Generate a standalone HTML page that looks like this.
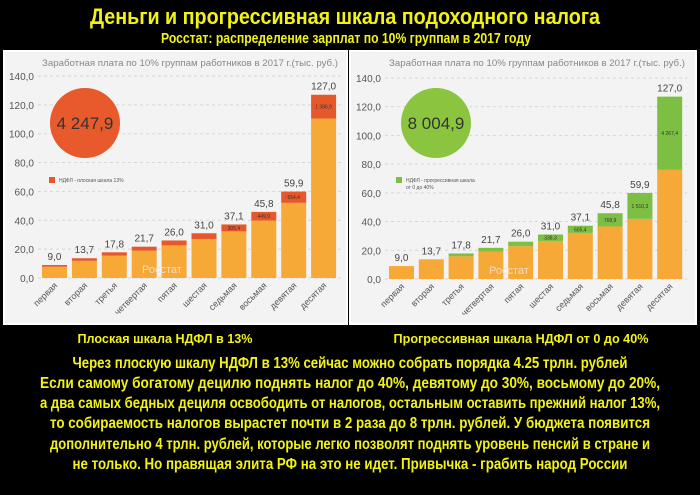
<!DOCTYPE html>
<html><head><meta charset="utf-8"><style>
html,body{margin:0;padding:0;background:#000;}
svg{display:block;}
text{font-family:"Liberation Sans",sans-serif;}
</style></head><body>
<svg id="s" width="700" height="495" viewBox="0 0 700 495" xmlns="http://www.w3.org/2000/svg">
<rect x="0" y="0" width="700" height="495" fill="#000"/>
<text x="345" y="24" text-anchor="middle" fill="#f2f21a" font-size="22" font-weight="bold" textLength="510" lengthAdjust="spacingAndGlyphs">Деньги и прогрессивная шкала подоходного налога</text>
<text x="346" y="43" text-anchor="middle" fill="#f2f21a" font-size="15" font-weight="bold" textLength="370" lengthAdjust="spacingAndGlyphs">Росстат: распределение зарплат по 10% группам в 2017 году</text>
<rect x="4" y="51" width="343" height="273" fill="#f3f3f3" stroke="#fff" stroke-width="2"/>
<rect x="350" y="51" width="346" height="273" fill="#f3f3f3" stroke="#fff" stroke-width="2"/>
<g id="L"></g><g id="R"></g>
<g fill="#f2f21a" font-weight="bold" text-anchor="middle">
<text x="165" y="343" font-size="13" textLength="175" lengthAdjust="spacingAndGlyphs">Плоская шкала НДФЛ в 13%</text>
<text x="521" y="343" font-size="13" textLength="255" lengthAdjust="spacingAndGlyphs">Прогрессивная шкала НДФЛ от 0 до 40%</text>
<text x="350" y="368" font-size="16" textLength="555" lengthAdjust="spacingAndGlyphs">Через плоскую шкалу НДФЛ в 13% сейчас можно собрать порядка 4.25 трлн. рублей</text>
<text x="350" y="388" font-size="16" textLength="620" lengthAdjust="spacingAndGlyphs">Если самому богатому децилю поднять налог до 40%, девятому до 30%, восьмому до 20%,</text>
<text x="350" y="408" font-size="16" textLength="620" lengthAdjust="spacingAndGlyphs">а два самых бедных дециля освободить от налогов, остальным оставить прежний налог 13%,</text>
<text x="350" y="428" font-size="16" textLength="600" lengthAdjust="spacingAndGlyphs">то собираемость налогов вырастет почти в 2 раза до 8 трлн. рублей. У бюджета появится</text>
<text x="350" y="449" font-size="16" textLength="600" lengthAdjust="spacingAndGlyphs">дополнительно 4 трлн. рублей, которые легко позволят поднять уровень пенсий в стране и</text>
<text x="350" y="469" font-size="16" textLength="555" lengthAdjust="spacingAndGlyphs">не только. Но правящая элита РФ на это не идет. Привычка - грабить народ России</text>
</g>
</svg>
<script>
const categories=["первая","вторая","третья","четвертая","пятая","шестая","седьмая","восьмая","девятая","десятая"];
const totals=[9.0,13.7,17.8,21.7,26.0,31.0,37.1,45.8,59.9,127.0];
const flatTax=[1.2,1.8,2.3,2.8,3.4,4.0,4.8,6.0,7.8,16.5];
const flatTaxLabels=["","","","","","","305,4","449,9","654,4","1 386,9"];
const progTax=[0,0,2.0,2.6,3.2,4.5,5.0,9.2,18.0,51.0];
const progTaxLabels=["","","","","","338,3","605,4","768,9","1 510,3","4 267,4"];
const yTicks=[0,20,40,60,80,100,120,140];
const NS="http://www.w3.org/2000/svg";
function mk(p,tag,a,txt){const e=document.createElementNS(NS,tag);for(const k in a)e.setAttribute(k,a[k]);if(txt!==undefined)e.textContent=txt;p.appendChild(e);return e;}
function chart(g,o){
 const y=v=>o.y0-v*o.k, x=i=>o.x0+i*o.pitch;
 mk(g,'text',{x:o.x0+148,y:66,'text-anchor':'middle','font-size':9.5,fill:'#888',textLength:296,lengthAdjust:'spacingAndGlyphs'},'Заработная плата по 10% группам работников в 2017 г.(тыс. руб.)');
 yTicks.forEach(t=>{
  const l=mk(g,'line',{x1:o.x0-4,x2:o.x0+o.pitch*9+30,y1:y(t),y2:y(t),stroke:'#d6d6d6','stroke-dasharray':'3,3'});
  
  
  const tx=mk(g,'text',{x:o.x0-8,y:y(t)+4,'text-anchor':'end','font-size':10,fill:'#555'},t.toFixed(1).replace('.',','));
  
  
 });
 totals.forEach((v,i)=>{
  const tax=o.tax[i], base=v-tax;
  const b=mk(g,'rect',{x:x(i),y:y(base),width:25,height:base*o.k,fill:'#f6a937'});
  
  
  if(tax>0){const t=mk(g,'rect',{x:x(i),y:y(v),width:25,height:tax*o.k,fill:o.col});
  
  
  if(o.labels[i]){const tl=mk(g,'text',{x:x(i)+12.5,y:y(v-tax/2)+2,'text-anchor':'middle','font-size':5,fill:'#333'},o.labels[i]);
  
  }}
  const vl=mk(g,'text',{x:x(i)+12.5,y:y(v)-5,'text-anchor':'middle','font-size':10,fill:'#444'},v.toFixed(1).replace('.',','));
  
  
  const cx=x(i)+16,cy=o.y0+8;
  const cl=mk(g,'text',{x:cx,y:cy,'text-anchor':'end','font-size':9,fill:'#555',transform:`rotate(-45 ${cx} ${cy})`},categories[i]);
  
  
 });
 mk(g,'text',{x:o.x0+100,y:o.y0-5,'font-size':11,fill:'#f5dcc0'},'Росстат');
 const c=mk(g,'circle',{cx:o.cx,cy:123,r:35,fill:o.circ});
 
 
 mk(g,'text',{x:o.cx,y:129,'text-anchor':'middle','font-size':17,fill:'#333'},o.total);
 mk(g,'rect',{x:o.x0+7,y:177,width:6,height:6,fill:o.col});
 o.leg.forEach((s,j)=>mk(g,'text',{x:o.x0+17,y:182+j*7,'font-size':5,fill:'#555'},s));
}
chart(document.getElementById('L'),{x0:42,y0:278,k:1.443,pitch:29.9,tax:flatTax,labels:flatTaxLabels,col:'#e6582a',circ:'#e8592b',cx:85,total:'4 247,9',leg:['НДФЛ - плоская шкала 13%']});
chart(document.getElementById('R'),{x0:389,y0:279,k:1.436,pitch:29.8,tax:progTax,labels:progTaxLabels,col:'#7dbf43',circ:'#8bc53f',cx:436,total:'8 004,9',leg:['НДФЛ - прогрессивная шкала','от 0 до 40%']});
</script>
</body></html>
